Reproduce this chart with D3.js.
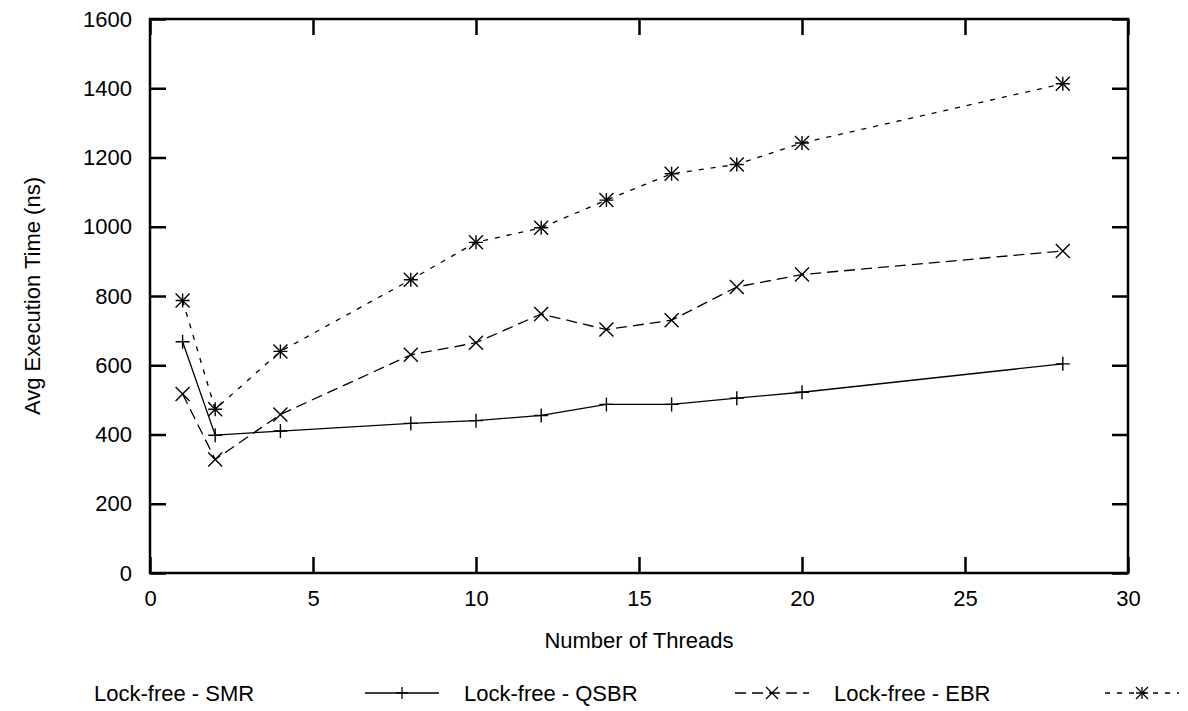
<!DOCTYPE html>
<html>
<head>
<meta charset="utf-8">
<script src="https://cdn.jsdelivr.net/npm/d3@7"></script>
<style>
  body { margin: 0; background: #fff; }
  text { font-family: "Liberation Sans", Arial, sans-serif; fill: #000; }
</style>
</head>
<body>
<div id="chart"></div>
<script>
// data
const threads = [1, 2, 4, 8, 10, 12, 14, 16, 18, 20, 28];
const smr  = [668, 398, 410, 432, 440, 455, 487, 487, 505, 522, 604];
const qsbr = [517, 328, 458, 630, 665, 748, 703, 730, 826, 862, 930];
const ebr  = [787, 473, 640, 847, 955, 997, 1077, 1153, 1180, 1242, 1413];
const seriesNames = ["Lock-free - SMR", "Lock-free - QSBR", "Lock-free - EBR"];
const xTicks = [0, 5, 10, 15, 20, 25, 30];
const yTicks = [0, 200, 400, 600, 800, 1000, 1200, 1400, 1600];

const W = 1188, H = 711;
const margin = {top: 19, right: 60, bottom: 138, left: 150};
const fontSize = 22;

const svg = d3.select("#chart").append("svg")
  .attr("width", W).attr("height", H);

const x = d3.scaleLinear().domain([0, 30]).range([margin.left, W - margin.right]);
const y = d3.scaleLinear().domain([0, 1600]).range([H - margin.bottom, margin.top]);

const tick = 16;

// axes, ticks pointing inward on all four sides
const axisStyle = g => {
  g.select(".domain").remove();
  g.selectAll("line").attr("stroke", "#000").attr("stroke-width", 2.5);
  g.selectAll("text").style("font-size", fontSize + "px").attr("fill", "#000");
};

svg.append("g")
  .attr("transform", `translate(0,${y(0)})`)
  .call(d3.axisBottom(x).tickValues(xTicks).tickSize(-tick).tickPadding(17).tickFormat(d3.format("d")))
  .call(axisStyle);

svg.append("g")
  .attr("transform", `translate(0,${y(1600)})`)
  .call(d3.axisTop(x).tickValues(xTicks).tickSize(-tick).tickFormat(""))
  .call(axisStyle);

svg.append("g")
  .attr("transform", `translate(${x(0)},0)`)
  .call(d3.axisLeft(y).tickValues(yTicks).tickSize(-tick).tickPadding(18).tickFormat(d3.format("d")))
  .call(axisStyle);

svg.append("g")
  .attr("transform", `translate(${x(30)},0)`)
  .call(d3.axisRight(y).tickValues(yTicks).tickSize(-tick).tickFormat(""))
  .call(axisStyle);

// frame
svg.append("rect")
  .attr("x", x(0)).attr("y", y(1600))
  .attr("width", x(30) - x(0)).attr("height", y(0) - y(1600))
  .attr("fill", "none").attr("stroke", "#000").attr("stroke-width", 2.5);

// axis titles
svg.append("text")
  .attr("x", (x(0) + x(30)) / 2).attr("y", 648)
  .attr("text-anchor", "middle")
  .style("font-size", fontSize + "px")
  .text("Number of Threads");

svg.append("text")
  .attr("transform", `translate(40,${(y(0) + y(1600)) / 2}) rotate(-90)`)
  .attr("text-anchor", "middle")
  .style("font-size", fontSize + "px")
  .text("Avg Execution Time (ns)");

// markers
function plus(g, cx, cy, ms) {
  g.append("path").attr("d", `M${cx - ms},${cy}H${cx + ms}M${cx},${cy - ms}V${cy + ms}`);
}
function cross(g, cx, cy, ms) {
  g.append("path").attr("d", `M${cx - ms},${cy - ms}L${cx + ms},${cy + ms}M${cx - ms},${cy + ms}L${cx + ms},${cy - ms}`);
}
function star(g, cx, cy, ms) { plus(g, cx, cy, ms); cross(g, cx, cy, ms); }

const series = [
  {name: seriesNames[0], values: smr,  dash: null,   marker: plus},
  {name: seriesNames[1], values: qsbr, dash: "11,6", marker: cross},
  {name: seriesNames[2], values: ebr,  dash: "5,7",  marker: star}
];

const line = d3.line().x(d => x(d[0])).y(d => y(d[1]));

series.forEach((s, i) => {
  const pts = threads.map((t, j) => [t, s.values[j]]);
  const g = svg.append("g").attr("fill", "none").attr("stroke", "#000").attr("stroke-width", 1.3);
  g.append("path").attr("d", line(pts)).attr("stroke-dasharray", s.dash);
  const mg = svg.append("g").attr("fill", "none").attr("stroke", "#000").attr("stroke-width", 1.4);
  pts.forEach(p => s.marker(mg, x(p[0]), y(p[1]), 7));

  // legend entry
  const lx = 94 + i * 370, ly = 693;
  svg.append("text")
    .attr("x", lx).attr("y", ly + 8)
    .style("font-size", fontSize + "px")
    .text(s.name);
  const cx = 402 + i * 370;
  const lg = svg.append("g").attr("fill", "none").attr("stroke", "#000").attr("stroke-width", 1.3);
  lg.append("path").attr("d", `M${cx - 37},${ly}H${cx + 37}`).attr("stroke-dasharray", s.dash);
  s.marker(lg, cx, ly, 6);
});
</script>
</body>
</html>
